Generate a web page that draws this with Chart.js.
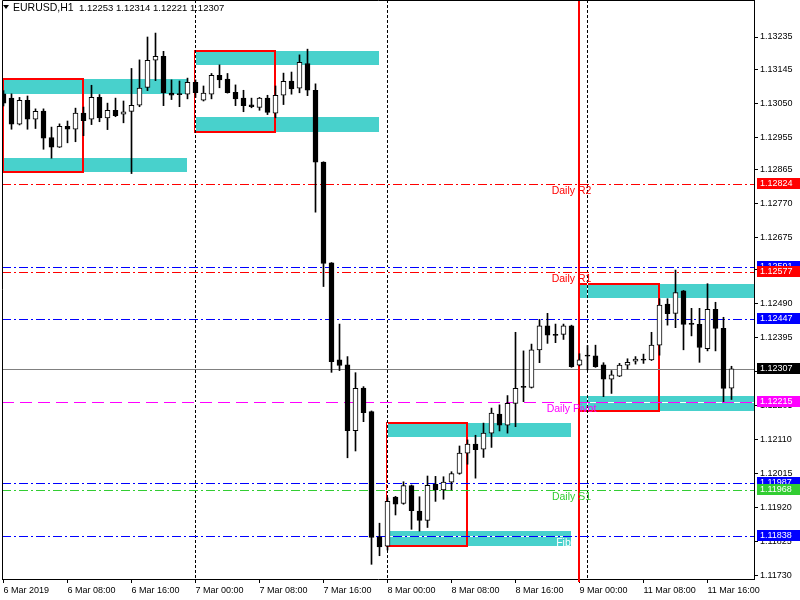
<!DOCTYPE html>
<html><head><meta charset="utf-8">
<script src="https://cdn.jsdelivr.net/npm/chart.js@4.4.1/dist/chart.umd.min.js"></script>
<style>html,body{margin:0;padding:0;background:#fff;}#wrap{width:800px;height:600px;}</style>
</head><body><div id="wrap"><canvas id="c" width="800" height="600"></canvas></div>
<script>
// ---------- data ----------
const symbolTitle = 'EURUSD,H1';
const lastOHLC = ['1.12253', '1.12314', '1.12221', '1.12307'];
const xTickBars = [0, 8, 16, 24, 32, 40, 48, 56, 64, 72, 80, 88];
const xTickLabels = ['6 Mar 2019', '6 Mar 08:00', '6 Mar 16:00', '7 Mar 00:00', '7 Mar 08:00', '7 Mar 16:00',
  '8 Mar 00:00', '8 Mar 08:00', '8 Mar 16:00', '9 Mar 00:00', '11 Mar 08:00', '11 Mar 16:00'];
const yTickValues = [1.13235, 1.13145, 1.13050, 1.12955, 1.12865, 1.12770, 1.12675, 1.12585, 1.12490,
  1.12395, 1.12300, 1.12205, 1.12110, 1.12015, 1.11920, 1.11825, 1.11730];

const openP = [1.13076,1.13064,1.12991,1.13058,1.13005,1.13028,1.12954,1.12927,1.12985,1.12977,
  1.13022,1.13005,1.13066,1.13009,1.13030,1.13019,1.13027,1.13044,1.13094,1.13170,
  1.13181,1.13078,1.13076,1.13075,1.13108,1.13058,1.13075,1.13128,1.13117,1.13080,
  1.13064,1.13045,1.13038,1.13064,1.13022,1.13072,1.13112,1.13092,1.13161,1.13086,
  1.12885,1.12603,1.12332,1.12318,1.12134,1.12253,1.12187,1.11837,1.11811,1.11948,
  1.11930,1.11980,1.11909,1.11883,1.11984,1.11968,1.11990,1.12014,1.12071,1.12096,
  1.12082,1.12127,1.12180,1.12149,1.12210,1.12257,1.12255,1.12360,1.12427,1.12403,
  1.12403,1.12427,1.12317,1.12345,1.12343,1.12318,1.12278,1.12286,1.12317,1.12328,
  1.12334,1.12332,1.12373,1.12488,1.12462,1.12525,1.12432,1.12431,1.12363,1.12473,
  1.12420,1.12253];
const highP = [1.13085,1.13076,1.13066,1.13070,1.13034,1.13034,1.12983,1.12992,1.13000,1.13036,
  1.13039,1.13100,1.13074,1.13050,1.13064,1.13056,1.13147,1.13171,1.13235,1.13246,
  1.13195,1.13115,1.13112,1.13120,1.13115,1.13098,1.13133,1.13157,1.13133,1.13101,
  1.13086,1.13064,1.13066,1.13072,1.13098,1.13134,1.13137,1.13185,1.13201,1.13104,
  1.12886,1.12604,1.12432,1.12341,1.12296,1.12257,1.12189,1.11875,1.11946,1.11950,
  1.11991,1.11982,1.11949,1.12007,1.12006,1.12005,1.12019,1.12091,1.12108,1.12121,
  1.12155,1.12197,1.12206,1.12232,1.12409,1.12357,1.12376,1.12445,1.12462,1.12432,
  1.12432,1.12429,1.12349,1.12372,1.12373,1.12324,1.12302,1.12322,1.12335,1.12341,
  1.12348,1.12409,1.12503,1.12503,1.12583,1.12526,1.12476,1.12476,1.12545,1.12493,
  1.12451,1.12314];
const lowP = [1.13042,1.12977,1.12989,1.12977,1.12979,1.12921,1.12896,1.12926,1.12939,1.12942,
  1.12959,1.12990,1.12998,1.12976,1.13012,1.12995,1.12853,1.13040,1.13085,1.13113,
  1.13043,1.13060,1.13040,1.13062,1.13066,1.13056,1.13062,1.13093,1.13078,1.13043,
  1.13026,1.13037,1.13030,1.13018,1.13009,1.13046,1.13075,1.13079,1.13071,1.12745,
  1.12537,1.12297,1.12302,1.12058,1.12077,1.12159,1.11760,1.11784,1.11800,1.11898,
  1.11928,1.11858,1.11853,1.11863,1.11936,1.11942,1.11968,1.12012,1.12040,1.12001,
  1.12059,1.12087,1.12133,1.12127,1.12145,1.12215,1.12253,1.12324,1.12378,1.12380,
  1.12389,1.12311,1.12315,1.12304,1.12311,1.12229,1.12238,1.12285,1.12306,1.12320,
  1.12322,1.12330,1.12345,1.12429,1.12422,1.12360,1.12399,1.12325,1.12357,1.12357,
  1.12215,1.12221];
const closeP = [1.13050,1.12991,1.13058,1.13005,1.13027,1.12952,1.12927,1.12985,1.12977,1.13022,
  1.13001,1.13066,1.13009,1.13030,1.13015,1.13026,1.13044,1.13092,1.13170,1.13181,
  1.13079,1.13072,1.13074,1.13108,1.13079,1.13078,1.13128,1.13115,1.13079,1.13062,
  1.13043,1.13040,1.13064,1.13024,1.13072,1.13111,1.13090,1.13164,1.13086,1.12885,
  1.12602,1.12327,1.12316,1.12134,1.12252,1.12184,1.11835,1.11809,1.11936,1.11928,
  1.11980,1.11910,1.11883,1.11981,1.11968,1.11990,1.12014,1.12071,1.12096,1.12081,
  1.12127,1.12183,1.12149,1.12210,1.12252,1.12255,1.12360,1.12427,1.12401,1.12400,
  1.12427,1.12313,1.12332,1.12342,1.12313,1.12278,1.12290,1.12317,1.12325,1.12334,
  1.12331,1.12373,1.12485,1.12461,1.12520,1.12431,1.12431,1.12367,1.12473,1.12420,
  1.12252,1.12307];

const levelPrices = [1.12824, 1.12591, 1.12577, 1.12447, 1.12307, 1.12215, 1.11987, 1.11968, 1.11838];
const levelNames = ['Daily R2', '', 'Daily R1', '', '', 'Daily Pivot', '', 'Daily S1', 'Fib'];

const zoneStart = [0, 24, 48, 72];
const zoneBoxEnd = [10, 34, 58, 82];
const zoneEnd = [23, 47, 71, 96];
const zoneUpperTop = [1.13118, 1.13196, 1.12155, 1.12544];
const zoneUpperBottom = [1.13076, 1.13157, 1.12116, 1.12505];
const zoneLowerTop = [1.12897, 1.13011, 1.11853, 1.12231];
const zoneLowerBottom = [1.12857, 1.12969, 1.11811, 1.12189];

const separatorBars = [24, 48, 73];
const sessionBar = 72;

// ---------- styles ----------
const FONT = 'Liberation Sans';
const DASHDOT = [9, 3, 2, 3];
const DASH = [12, 6];
const levelStyles = [
  {color: '#ff0000', dash: DASHDOT, textColor: '#ff0000', textBar: 71},
  {color: '#0000ff', dash: DASHDOT},
  {color: '#ff0000', dash: DASHDOT, textColor: '#ff0000', textBar: 71},
  {color: '#0000ff', dash: DASHDOT},
  {color: '#808080', dash: [], box: '#000000'},
  {color: '#ff00ff', dash: DASH, textColor: '#ff00ff', textBar: 71},
  {color: '#0000ff', dash: DASHDOT},
  {color: '#32cd32', dash: DASHDOT, textColor: '#32cd32', textBar: 71},
  {color: '#0000ff', dash: DASHDOT, textColor: '#ffffff', textBar: 70}
];

// ---------- datasets ----------
const bodies = openP.map((o, i) => ({x: i, y: [o, closeP[i]]}));
const wicks = lowP.map((l, i) => ({x: i, y: [l, highP[i]]}));
const bodyFill = openP.map((o, i) => closeP[i] >= o ? '#ffffff' : '#000000');

const overlay = {
  id: 'overlay',
  beforeDatasetsDraw(chart) {
    const {ctx, chartArea: ca, scales: {x, y}} = chart;
    const px = v => x.getPixelForValue(v);
    const py = v => y.getPixelForValue(v);
    ctx.save();
    ctx.beginPath();
    ctx.rect(ca.left, 0, ca.right - ca.left, ca.bottom + 3);
    ctx.clip();
    // zone bands
    ctx.fillStyle = '#48d1cc';
    zoneStart.forEach((s, i) => {
      const x1 = Math.floor(px(s)), x2 = Math.floor(px(zoneEnd[i]));
      let t = Math.round(py(zoneUpperTop[i])), b = Math.round(py(zoneUpperBottom[i]));
      ctx.fillRect(x1, t, x2 - x1, b - t);
      t = Math.round(py(zoneLowerTop[i])); b = Math.round(py(zoneLowerBottom[i]));
      ctx.fillRect(x1, t, x2 - x1, b - t);
    });
    // red boxes
    ctx.strokeStyle = '#ff0000';
    ctx.lineWidth = 2;
    zoneStart.forEach((s, i) => {
      const x1 = Math.floor(px(s)), x2 = Math.floor(px(zoneBoxEnd[i]));
      const t = Math.round(py(zoneUpperTop[i])), b = Math.round(py(zoneLowerBottom[i]));
      ctx.strokeRect(x1, t, x2 - x1, b - t);
    });
    // day separators
    ctx.lineWidth = 1;
    separatorBars.forEach(bar => {
      const xx = Math.floor(px(bar)) + 0.5;
      ctx.setLineDash([]);
      ctx.strokeStyle = '#ffffff';
      ctx.beginPath(); ctx.moveTo(xx, ca.top); ctx.lineTo(xx, ca.bottom); ctx.stroke();
      ctx.setLineDash([3, 2]);
      ctx.strokeStyle = '#000000';
      ctx.beginPath(); ctx.moveTo(xx, ca.top); ctx.lineTo(xx, ca.bottom); ctx.stroke();
    });
    // horizontal levels
    levelPrices.forEach((p, i) => {
      const st = levelStyles[i];
      const yy = Math.round(py(p)) + 0.5;
      if (st.dash.length) {
        ctx.setLineDash([]);
        ctx.strokeStyle = '#ffffff';
        ctx.beginPath(); ctx.moveTo(ca.left, yy); ctx.lineTo(ca.right, yy); ctx.stroke();
      }
      ctx.setLineDash(st.dash);
      ctx.strokeStyle = st.color;
      ctx.beginPath(); ctx.moveTo(ca.left, yy); ctx.lineTo(ca.right, yy); ctx.stroke();
    });
    ctx.setLineDash([]);
    // session line
    const sx = Math.floor(px(sessionBar));
    ctx.strokeStyle = '#ff0000';
    ctx.lineWidth = 2;
    ctx.beginPath(); ctx.moveTo(sx, 0); ctx.lineTo(sx, ca.bottom + 3); ctx.stroke();
    // level texts
    ctx.font = '10.5px "' + FONT + '"';
    ctx.textAlign = 'center';
    ctx.textBaseline = 'middle';
    levelPrices.forEach((p, i) => {
      const st = levelStyles[i];
      if (!levelNames[i]) return;
      ctx.fillStyle = st.textColor;
      ctx.fillText(levelNames[i], px(st.textBar), Math.round(py(p)) + 7.5);
    });
    ctx.restore();
  },
  afterDraw(chart) {
    const {ctx, chartArea: ca, scales: {y}} = chart;
    const py = v => y.getPixelForValue(v);
    ctx.save();
    // frame
    ctx.strokeStyle = '#000';
    ctx.lineWidth = 1;
    ctx.beginPath();
    ctx.moveTo(ca.left + 0.5, ca.bottom); ctx.lineTo(ca.left + 0.5, 0.5); ctx.lineTo(ca.right, 0.5);
    ctx.stroke();
    // price boxes
    ctx.font = '9px "' + FONT + '"';
    ctx.textAlign = 'left';
    ctx.textBaseline = 'middle';
    levelPrices.forEach((p, i) => {
      const st = levelStyles[i];
      const yy = Math.round(py(p));
      ctx.fillStyle = st.box || st.color;
      ctx.fillRect(ca.right + 3, yy - 6, 800 - ca.right - 3, 11);
      ctx.fillStyle = '#ffffff';
      ctx.fillText(p.toFixed(5), ca.right + 6, yy);
    });
    // title
    ctx.fillStyle = '#000';
    ctx.beginPath(); ctx.moveTo(3, 5); ctx.lineTo(9, 5); ctx.lineTo(6, 9); ctx.closePath(); ctx.fill();
    ctx.textBaseline = 'alphabetic';
    ctx.font = '10.5px "' + FONT + '"';
    ctx.fillText(symbolTitle, 13, 11);
    ctx.font = '9.5px "' + FONT + '"';
    ctx.fillText(lastOHLC.join(' '), 79, 11);
    ctx.restore();
  }
};

new Chart(document.getElementById('c'), {
  type: 'bar',
  data: {
    datasets: [
      {label: 'body', data: bodies, backgroundColor: bodyFill, borderColor: '#000000', borderWidth: 1,
        borderSkipped: false, barThickness: 5, minBarLength: 1, grouped: false, order: 0},
      {label: 'wick', data: wicks, backgroundColor: '#000000', borderWidth: 0,
        barThickness: 1, grouped: false, order: 1}
    ]
  },
  options: {
    responsive: false,
    animation: false,
    events: [],
    layout: {padding: {left: 2, top: 0, right: 0, bottom: 0}},
    plugins: {legend: {display: false}, tooltip: {enabled: false}},
    scales: {
      x: {
        type: 'linear', min: -0.1875, max: 93.8125, offset: false,
        afterBuildTicks: s => { s.ticks = xTickBars.map(v => ({value: v})); },
        afterFit: s => { s.height = 21; s.paddingLeft = 0; s.paddingRight = 0; s.paddingTop = 0; s.paddingBottom = 0; },
        ticks: {autoSkip: false, maxRotation: 0, minRotation: 0, align: 'start', padding: 2, color: '#000',
          font: {family: FONT, size: 9}, callback: (v, i) => xTickLabels[i]},
        grid: {drawOnChartArea: false, offset: false, tickLength: 4, tickColor: '#000'},
        border: {display: true, color: '#000', width: 1}
      },
      y: {
        type: 'linear', position: 'right', min: 1.1171892, max: 1.1333850,
        afterBuildTicks: s => { s.ticks = yTickValues.map(v => ({value: v})); },
        afterFit: s => { s.width = 46; s.paddingTop = 0; s.paddingBottom = 0; s.paddingLeft = 0; s.paddingRight = 0; },
        ticks: {autoSkip: false, padding: 2, color: '#000', font: {family: FONT, size: 9},
          callback: v => Number(v).toFixed(5)},
        grid: {drawOnChartArea: false, tickLength: 4, tickColor: '#000'},
        border: {display: true, color: '#000', width: 1}
      }
    }
  },
  plugins: [overlay]
});
</script></body></html>
